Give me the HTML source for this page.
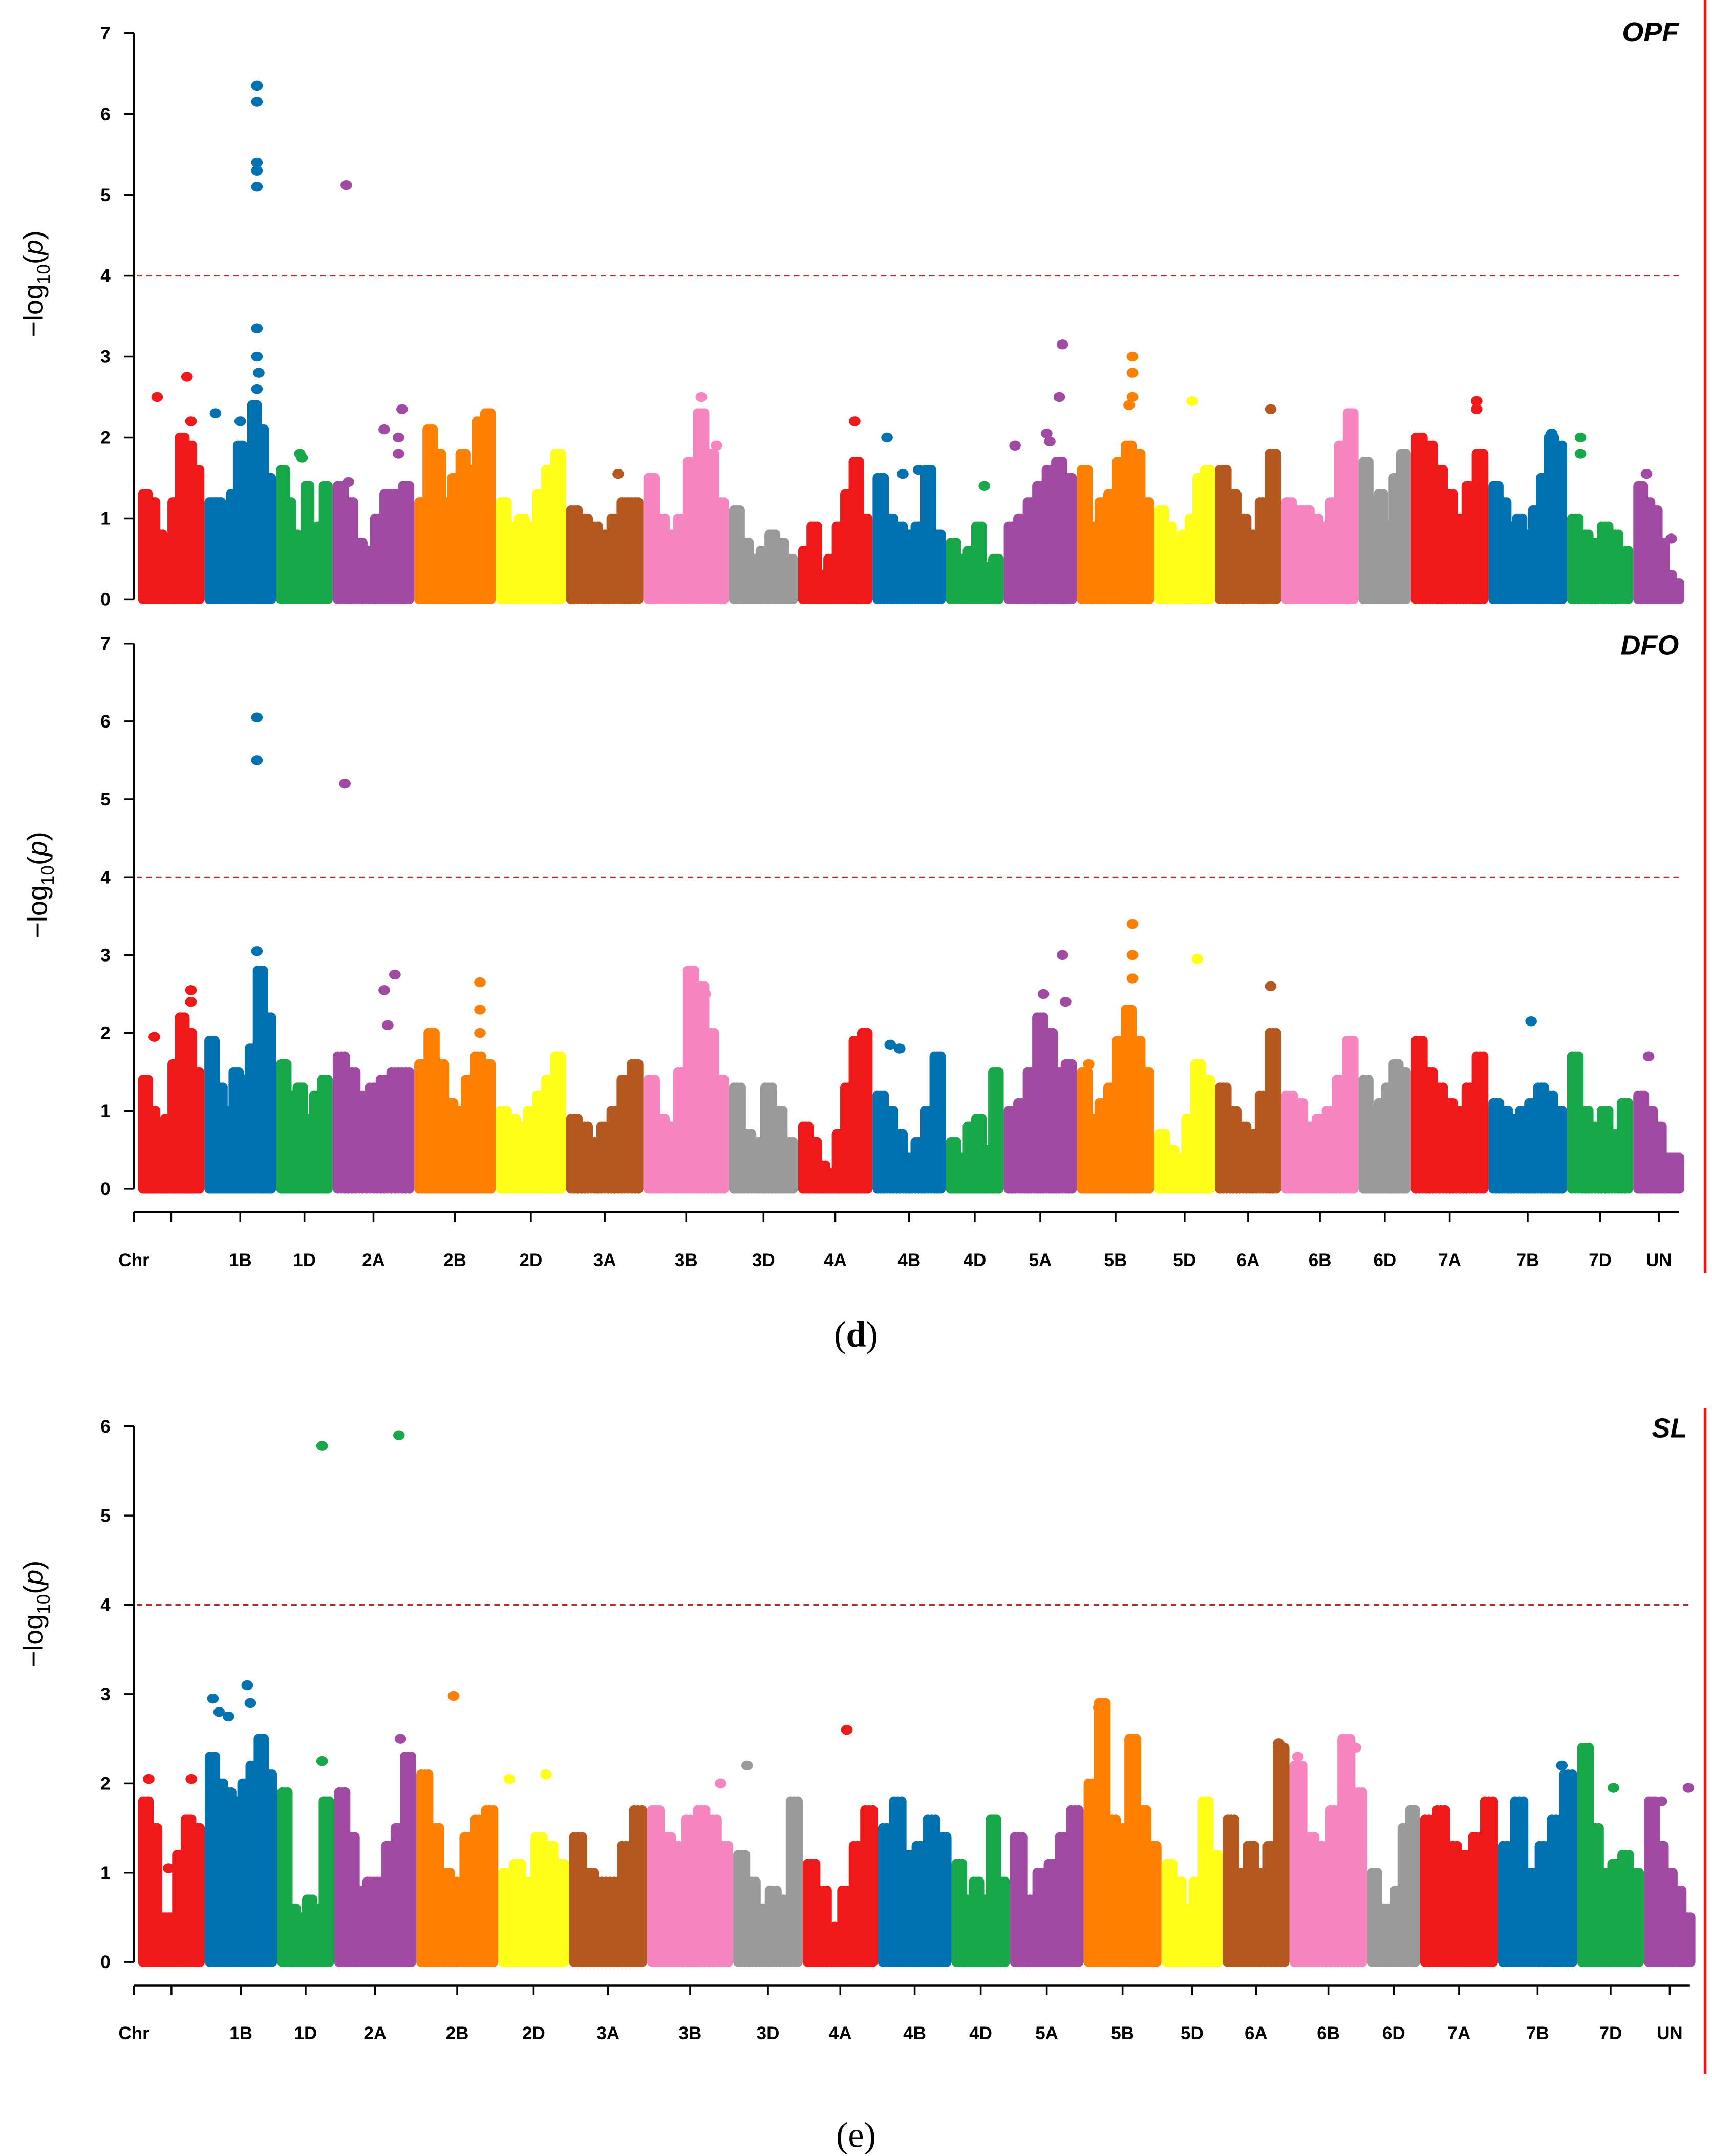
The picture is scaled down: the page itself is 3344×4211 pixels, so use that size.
<!DOCTYPE html>
<html><head><meta charset="utf-8">
<style>
html,body{margin:0;padding:0;background:#fff;}
svg{display:block;}
text{font-family:"Liberation Sans",sans-serif;}
</style></head>
<body>
<svg id="chart" width="3344" height="4211" viewBox="0 0 1240 1561.5" xmlns="http://www.w3.org/2000/svg">
<rect width="1240" height="1561.5" fill="#fff"/>
<line x1="1235" y1="0" x2="1235" y2="922" stroke="#ee1111" stroke-width="2"/>
<line x1="1235" y1="1020" x2="1235" y2="1502" stroke="#ee1111" stroke-width="2"/>
<text x="620" y="975" text-anchor="middle" font-family="Liberation Serif" font-size="26" style="font-family:'Liberation Serif',serif">(<tspan font-weight="bold">d</tspan>)</text>
<text x="620" y="1555" text-anchor="middle" font-size="26" style="font-family:'Liberation Serif',serif">(e)</text>
</svg>
<script>
const chromosomes = ["1A","1B","1D","2A","2B","2D","3A","3B","3D","4A","4B","4D","5A","5B","5D","6A","6B","6D","7A","7B","7D","UN"];
const chromLengths = [48,52,41,59,59,51,56,62,50,54,53,42,53,56,44,48,56,38,56,57,48,37];
const chromColors = ["#f01818","#0072b2","#18a84a","#a04aa3","#ff8000","#ffff1a","#b5581f","#f785c0","#9a9a9a","#f01818","#0072b2","#18a84a","#a04aa3","#ff8000","#ffff1a","#b5581f","#f785c0","#9a9a9a","#f01818","#0072b2","#18a84a","#a04aa3"];
const axisLabels = ["Chr","","1B","1D","2A","2B","2D","3A","3B","3D","4A","4B","4D","5A","5B","5D","6A","6B","6D","7A","7B","7D","UN"];

const opfBulk = [
[1.3,1.2,0.8,0.7,1.2,2.0,1.9,1.6],[1.2,1.2,0.8,1.3,1.9,1.2,2.4,2.1,1.5],[1.6,1.2,0.8,0.5,1.4,0.7,0.9,1.4],
[1.4,1.2,0.7,0.6,1.0,1.3,1.3,1.4],[1.2,2.1,1.8,1.2,1.5,1.8,1.6,2.2,2.3],[1.2,0.9,1.0,0.9,1.3,1.6,1.8],
[1.1,1.0,0.9,0.8,1.0,1.2,1.2],[1.5,1.0,0.8,1.0,1.7,2.3,1.8,1.2],[1.1,0.7,0.5,0.6,0.8,0.7,0.5],
[0.6,0.9,0.3,0.5,0.9,1.3,1.7,1.0],[1.5,1.0,0.9,0.8,0.9,1.6,0.8],[0.7,0.5,0.6,0.9,0.4,0.5],
[0.9,1.0,1.2,1.4,1.6,1.7,1.5],[1.6,0.9,1.2,1.3,1.7,1.9,1.8,1.2],[1.1,0.9,0.7,0.8,1.0,1.5,1.6],
[1.6,1.3,1.0,0.8,1.2,1.8],[1.2,1.1,1.1,1.0,0.9,1.2,1.9,2.3],[1.7,1.2,1.3,0.9,1.5,1.8],
[2.0,1.9,1.6,1.3,1.0,1.4,1.8],[1.4,1.2,0.9,1.0,0.8,1.1,1.5,2.0,1.9],[1.0,0.8,0.7,0.9,0.8,0.6],[1.4,1.2,1.1,0.7,0.3,0.2]];
const opfPeaks = [
[[0.25,2.5],[0.78,2.75],[0.85,2.2]],
[[0.1,2.3],[0.5,2.2],[0.77,3.0],[0.77,3.35],[0.77,5.1],[0.77,5.3],[0.77,5.4],[0.77,6.15],[0.77,6.35],[0.8,2.8],[0.77,2.6]],
[[0.4,1.8],[0.45,1.75]],
[[0.15,1.45],[0.65,2.1],[0.85,2.0],[0.85,1.8],[0.9,2.35],[0.12,5.12]],
[],[],[[0.7,1.55]],[[0.7,2.5],[0.9,1.9]],[],[[0.8,2.2]],
[[0.15,2.0],[0.4,1.55],[0.65,1.6]],[[0.7,1.4]],
[[0.1,1.9],[0.6,2.05],[0.8,2.5],[0.85,3.15],[0.65,1.95]],
[[0.75,3.0],[0.75,2.8],[0.75,2.5],[0.7,2.4]],[[0.65,2.45]],[[0.9,2.35]],[],[],
[[0.9,2.45],[0.9,2.35]],[[0.85,2.05]],[[0.15,2.0],[0.15,1.8]],[[0.2,1.55],[0.8,0.75]]];

const dfoBulk = [
[1.4,1.0,0.7,0.9,1.6,2.2,2.0,1.5],[1.9,1.3,1.0,1.5,1.4,1.8,2.8,2.2],[1.6,1.2,1.3,0.9,1.2,1.4],
[1.7,1.5,1.2,1.3,1.4,1.5,1.5],[1.6,2.0,1.6,1.1,1.0,1.4,1.7,1.6],[1.0,0.9,0.8,1.0,1.2,1.4,1.7],
[0.9,0.8,0.6,0.8,1.0,1.4,1.6],[1.4,0.9,0.8,1.5,2.8,2.6,2.0,1.4],[1.3,0.7,0.6,1.3,1.0,0.6],
[0.8,0.6,0.3,0.2,0.7,1.3,1.9,2.0],[1.2,1.0,0.7,0.4,0.6,1.0,1.7],[0.6,0.4,0.8,0.9,0.5,1.5],
[1.0,1.1,1.5,2.2,2.0,1.5,1.6],[1.5,0.9,1.1,1.3,1.9,2.3,1.9,1.5],[0.7,0.5,0.4,0.9,1.6,1.4],
[1.3,1.0,0.8,0.7,1.2,2.0],[1.2,1.1,0.8,0.9,1.0,1.4,1.9],[1.4,1.0,1.1,1.3,1.6,1.5],
[1.9,1.5,1.3,1.1,1.0,1.3,1.7],[1.1,1.0,0.9,1.0,1.1,1.3,1.2,1.0],[1.7,1.0,0.8,1.0,0.7,1.1],[1.2,1.0,0.8,0.4,0.4]];
const dfoPeaks = [
[[0.2,1.95],[0.85,2.55],[0.85,2.4]],[[0.77,3.05],[0.77,5.5],[0.77,6.05]],[],
[[0.65,2.55],[0.7,2.1],[0.8,2.75],[0.1,5.2]],[[0.85,2.65],[0.85,2.3],[0.85,2.0]],[],[],
[[0.75,2.5]],[],[],[[0.2,1.85],[0.35,1.8]],[],
[[0.55,2.5],[0.85,3.0],[0.9,2.4]],[[0.75,3.4],[0.75,3.0],[0.75,2.7],[0.1,1.6]],[[0.75,2.95]],
[[0.9,2.6]],[],[],[],[[0.55,2.15]],[],[[0.25,1.7]]];

const slBulk = [
[1.8,1.5,0.5,0.5,1.2,1.6,1.5],[2.3,2.0,1.9,1.8,2.0,2.2,2.5,2.1],[1.9,0.6,0.5,0.7,0.6,1.8],
[1.9,1.4,0.8,0.9,0.9,1.3,1.5,2.3],[2.1,1.5,1.0,0.9,1.4,1.6,1.7],[1.0,1.1,0.9,1.4,1.3,1.1],
[1.4,1.0,0.9,0.9,1.3,1.7],[1.7,1.4,1.3,1.6,1.7,1.6,1.3],[1.2,0.9,0.6,0.8,0.7,1.8],
[1.1,0.8,0.4,0.8,1.3,1.7],[1.5,1.8,1.2,1.3,1.6,1.4],[1.1,0.7,0.9,0.7,1.6,0.9],
[1.4,0.7,1.0,1.1,1.4,1.7],[2.0,2.9,1.6,1.5,2.5,1.7,1.3],[1.1,0.9,0.6,0.9,1.8,1.2],
[1.6,1.0,1.3,1.0,1.3,2.4],[2.2,1.4,1.3,1.7,2.5,1.9],[1.0,0.6,0.6,0.8,1.5,1.7],
[1.6,1.7,1.3,1.2,1.4,1.8],[1.3,1.8,1.0,1.3,1.6,2.1],[2.4,1.5,1.0,1.1,1.2,1.0],[1.8,1.3,1.0,0.8,0.5]];
const slPeaks = [
[[0.1,2.05],[0.85,2.05],[0.45,1.05]],[[0.05,2.95],[0.15,2.8],[0.3,2.75],[0.6,3.1],[0.65,2.9]],
[[0.1,1.3],[0.85,2.25],[0.85,5.78]],[[0.85,2.5],[0.83,5.9,2]],[[0.45,2.98]],[[0.1,2.05],[0.7,2.1]],
[],[[0.9,2.0]],[[0.15,2.2]],[[0.6,2.6]],[],[],[],[[0.15,2.85]],[],[[0.9,2.45]],
[[0.05,2.3],[0.9,2.4]],[],[],[[0.85,2.2]],[[0.1,2.4],[0.55,1.95]],[[0.3,1.8],[0.95,1.95]]];

const panels = [
 {name:"opf",title:"OPF",bulk:opfBulk,peaks:opfPeaks,x0:100,x1:1220,yTop:24,yZero:434,yMax:7,titleX:1216,titleY:30,ytX:25,xaxisY:null},
 {name:"dfo",title:"DFO",bulk:dfoBulk,peaks:dfoPeaks,x0:100,x1:1220,yTop:466,yZero:861,yMax:7,titleX:1216,titleY:474,ytX:28,xaxisY:878},
 {name:"sl",title:"SL",bulk:slBulk,peaks:slPeaks,x0:100,x1:1228,yTop:1033,yZero:1421,yMax:6,titleX:1222,titleY:1041,ytX:25,xaxisY:1438}
];
const NS="http://www.w3.org/2000/svg";
const svg=document.getElementById("chart");
function mk(tag,attrs,parent){const e=document.createElementNS(NS,tag);for(const k in attrs)e.setAttribute(k,attrs[k]);(parent||svg).appendChild(e);return e;}
const total=chromLengths.reduce((a,b)=>a+b,0);
const R=3.6;
panels.forEach(p=>{
  const g=mk("g",{});
  
  
  const xs=v=>p.x0+(v/total)*(p.x1-p.x0);
  const ys=v=>p.yZero-v*(p.yZero-p.yTop)/p.yMax;
  // y axis
  const ya=mk("line",{x1:97,y1:ys(p.yMax),x2:97,y2:ys(0),stroke:"#000","stroke-width":1.3},g);
  
  
  for(let t=0;t<=p.yMax;t++){
    mk("line",{x1:90,y1:ys(t),x2:97,y2:ys(t),stroke:"#000","stroke-width":1.3},g);
    const tl=mk("text",{x:80,y:ys(t)+4.5,"text-anchor":"end","font-size":13,"font-weight":"bold"},g);
    tl.textContent=t;
    
    
  }
  const yt=mk("text",{transform:`translate(${p.ytX+6},${ys(3.9)}) rotate(-90)`,"text-anchor":"middle","font-size":20},g);
  yt.innerHTML='\u2212log<tspan font-size="13" dy="5">10</tspan><tspan dy="-5">(</tspan><tspan font-style="italic">p</tspan>)';
  
  
  const tt=mk("text",{x:p.titleX,y:p.titleY,"text-anchor":"end","font-size":20,"font-weight":"bold","font-style":"italic"},g);
  tt.textContent=p.title;
  
  
  // points
  let cum=0;
  chromosomes.forEach((c,ci)=>{
    const cg=mk("g",{fill:chromColors[ci]},g);
    
    
    const cs=cum, ce=cum+chromLengths[ci];
    const vals=p.bulk[ci], n=vals.length;
    const a=xs(cs)+R, b=xs(ce)-R;
    const sub=3;
    vals.forEach((v,i)=>{
      for(let s=0;s<sub;s++){
        const fx=(i*sub+s)/(n*sub-1);
        const cx=a+fx*(b-a);
        const top=ys(v)-R, bot=ys(0)+R;
        const r=mk("rect",{x:cx-R,y:top,width:2*R,height:bot-top,rx:R,ry:R},cg);
        
        
      }
    });
    p.peaks[ci].forEach(pk=>{
      const cx=a+pk[0]*(b-a);
      const col=pk.length>2?chromColors[pk[2]]:chromColors[ci];
      const d=mk("ellipse",{cx:cx,cy:ys(pk[1]),rx:R+0.6,ry:R,fill:col},cg);
      
      
    });
    cum=ce;
  });
  const th=mk("line",{x1:99,y1:ys(4),x2:p.x1-4,y2:ys(4),stroke:"#b03030","stroke-width":1.1,"stroke-dasharray":"4,3"},g);
  
  
  if(p.xaxisY){
    const xa=mk("line",{x1:97,y1:p.xaxisY,x2:p.x1-4,y2:p.xaxisY,stroke:"#000","stroke-width":1.3},g);
    
    
    let c2=0;
    const tickPos=[97];
    chromLengths.forEach(L=>{tickPos.push(xs(c2+L/2));c2+=L;});
    tickPos.forEach((tx,i)=>{
      mk("line",{x1:tx,y1:p.xaxisY,x2:tx,y2:p.xaxisY+7,stroke:"#000","stroke-width":1.3},g);
      if(axisLabels[i]){
        const l=mk("text",{x:tx,y:p.xaxisY+39,"text-anchor":"middle","font-size":13,"font-weight":"bold"},g);
        l.textContent=axisLabels[i];
        
        
      }
    });
  }
});
</script>
</body></html>
